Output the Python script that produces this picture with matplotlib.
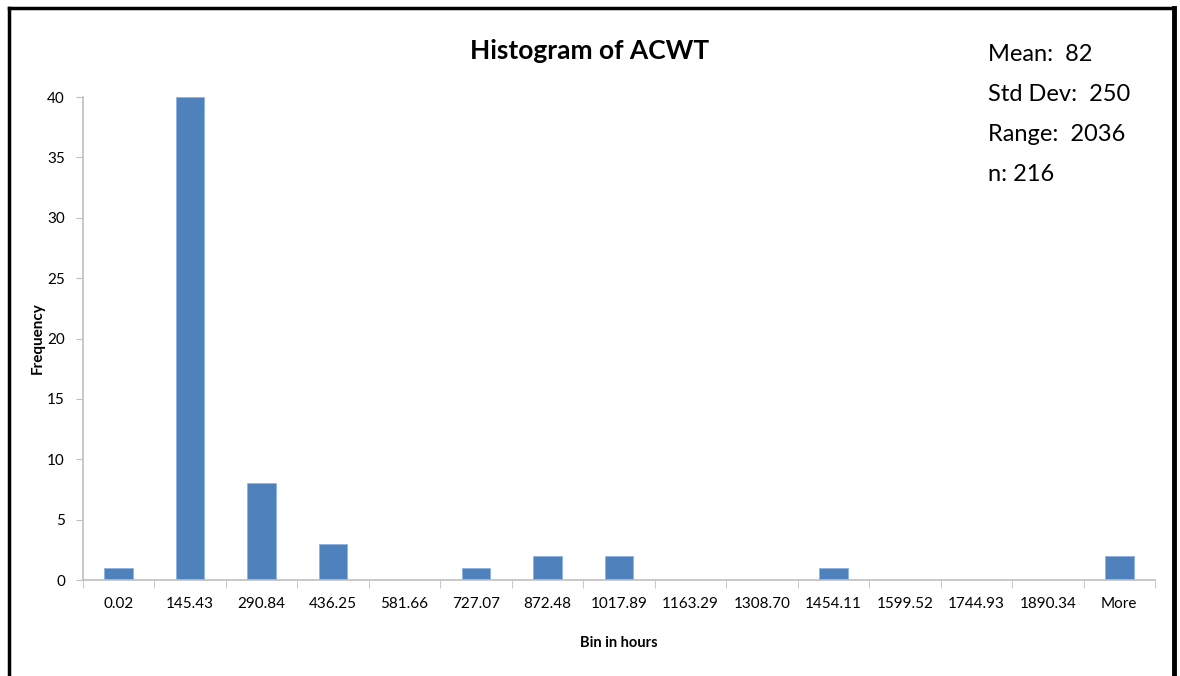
import numpy as np
import matplotlib.pyplot as plt
from matplotlib.lines import Line2D

bins = ['0.02', '145.43', '290.84', '436.25', '581.66', '727.07', '872.48',
        '1017.89', '1163.29', '1308.70', '1454.11', '1599.52', '1744.93',
        '1890.34', 'More']
freq = [1, 40, 8, 3, 0, 1, 2, 2, 0, 0, 1, 0, 0, 0, 2]
stats = ['Mean:  82', 'Std Dev:  250', 'Range:  2036', 'n: 216']

plt.rcParams['font.family'] = ['Lato', 'DejaVu Sans']
grey = '#BFBFBF'

fig = plt.figure(figsize=(11.8, 6.76), dpi=100)
ax = fig.add_axes([0.0703, 0.142, 0.9085, 0.7145])

x = np.arange(len(bins))
ax.bar(x, freq, width=0.4, color='#4F81BD', edgecolor='#8EB4E3', linewidth=0.6)

ax.set_xlim(-0.5, len(bins) - 0.5)
ax.set_ylim(0, 40)
ax.set_yticks(range(0, 41, 5))
ax.set_xticks(x)
ax.set_xticklabels(bins, fontsize=11)
ax.tick_params(axis='y', labelsize=11, color=grey, length=5, pad=8)
ax.tick_params(axis='x', length=0, pad=12)
ax.set_xticks(np.arange(-0.5, len(bins), 1.0), minor=True)
ax.tick_params(axis='x', which='minor', color=grey, length=6)

for s in ['top', 'right']:
    ax.spines[s].set_visible(False)
for s in ['left', 'bottom']:
    ax.spines[s].set_color(grey)
    ax.spines[s].set_linewidth(1.2)

ax.set_xlabel('Bin in hours', fontsize=10.5, fontweight='bold', labelpad=18)
ax.set_ylabel('Frequency', fontsize=11, fontweight='bold', labelpad=2)

fig.text(0.5, 0.925, 'Histogram of ACWT', ha='center', va='center',
         fontsize=19, fontweight='bold')
for i, s in enumerate(stats):
    fig.text(0.837, 0.92 - i * 0.0595, s, ha='left', va='center', fontsize=17)

# frame around the chart
fig.add_artist(Line2D([0.0075, 0.9945], [0.988, 0.988], color='black', lw=2.5,
                      transform=fig.transFigure))
fig.add_artist(Line2D([0.0075, 0.0075], [0.988, 0.0], color='black', lw=2.5,
                      transform=fig.transFigure))
fig.add_artist(Line2D([0.9945, 0.9945], [0.988, 0.0], color='black', lw=3.5,
                      transform=fig.transFigure))

fig.savefig('out.png', dpi=100)
